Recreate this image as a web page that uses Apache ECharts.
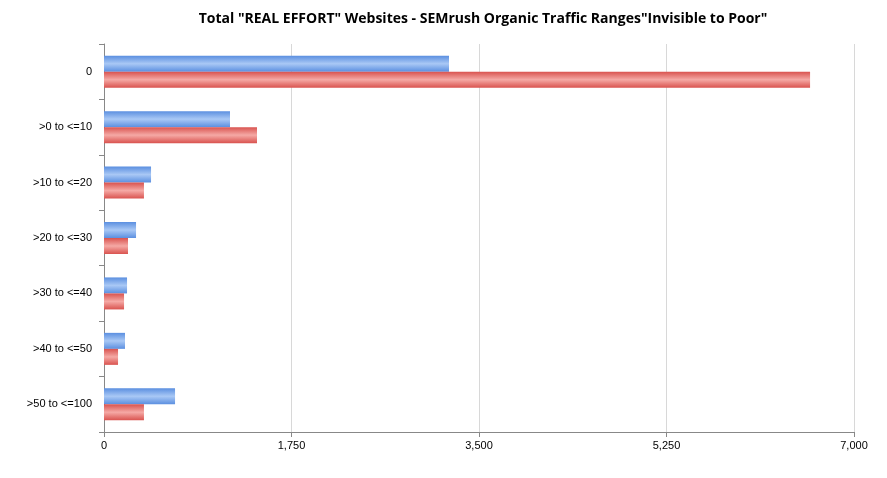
<!DOCTYPE html>
<html><head><meta charset="utf-8">
<script src="https://cdn.jsdelivr.net/npm/echarts@6/dist/echarts.min.js"></script>
<style>html,body{margin:0;padding:0;background:#fff}#c{width:887px;height:478px}</style>
</head><body><div id="c"></div>
<script>
const categories = ["0", ">0 to <=10", ">10 to <=20", ">20 to <=30", ">30 to <=40", ">40 to <=50", ">50 to <=100"];
const blueValues = [3220, 1176, 439, 299, 215, 196, 663];
const redValues = [6590, 1428, 373, 224, 187, 131, 373];
const xTicks = [0, 1750, 3500, 5250, 7000];

const grad = (a, b) => new echarts.graphic.LinearGradient(0, 0, 0, 1, [{offset:0,color:a},{offset:0.5,color:b},{offset:1,color:a}]);
const chart = echarts.init(document.getElementById('c'));
chart.setOption({
  animation: false,
  title: { text: 'Total "REAL EFFORT" Websites - SEMrush Organic Traffic Ranges"Invisible to Poor"', left: 478, textAlign: 'center', top: 7,
    textStyle: { fontFamily: 'Open Sans', fontWeight: 'bold', fontSize: 14, color: '#000' } },
  grid: { left: 104, right: 33, top: 44, bottom: 46 },
  xAxis: { type: 'value', min: xTicks[0], max: xTicks[xTicks.length-1], interval: 1750,
    axisLine: { show: true, lineStyle: { color: '#888' } }, axisTick: { show: true, lineStyle: { color: '#888' } },
    splitLine: { lineStyle: { color: '#d8d8d8' } },
    axisLabel: { color: '#000', fontFamily: 'Liberation Sans', fontSize: 11 } },
  yAxis: { type: 'category', data: categories, inverse: true,
    axisLine: { lineStyle: { color: '#888' } }, axisTick: { show: true, lineStyle: { color: '#888' } },
    axisLabel: { color: '#000', fontFamily: 'Liberation Sans', fontSize: 11, margin: 12 } },
  series: [
    { type: 'bar', data: blueValues, barWidth: 16, barGap: '0%', itemStyle: { color: grad('#5b8fe0', '#a9c8f5') } },
    { type: 'bar', data: redValues, barWidth: 16, itemStyle: { color: grad('#d9534f', '#f5a9a5') } }
  ]
});
</script></body></html>
